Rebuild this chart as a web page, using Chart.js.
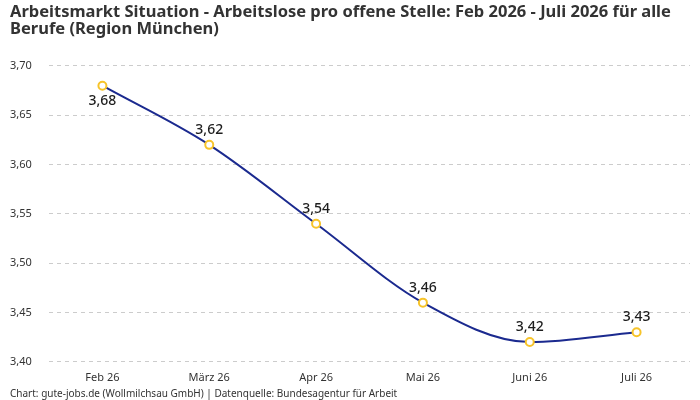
<!DOCTYPE html>
<html>
<head>
<meta charset="utf-8">
<script src="https://cdn.jsdelivr.net/npm/chart.js@4/dist/chart.umd.min.js"></script>
<style>
  html, body { margin: 0; padding: 0; background: #fff; }
  #wrap { width: 700px; height: 400px; position: relative; }
</style>
</head>
<body>
<div id="wrap"><canvas id="myChart"></canvas></div>
<script>
const months = ['Feb 26', 'März 26', 'Apr 26', 'Mai 26', 'Juni 26', 'Juli 26'];
const ratio = [3.68, 3.62, 3.54, 3.46, 3.42, 3.43];
const yTicks = [3.40, 3.45, 3.50, 3.55, 3.60, 3.65, 3.70];

const fontName = '"Noto Sans", "Open Sans", sans-serif';
const fmt = v => v.toFixed(2).replace('.', ',');

// Werte über die Punkte schreiben (erster Punkt darunter)
const valueLabels = {
    id: 'valueLabels',
    afterDatasetsDraw(chart) {
        const ctx = chart.ctx;
        const meta = chart.getDatasetMeta(0);
        ctx.save();
        ctx.font = '500 14px ' + fontName;
        ctx.fillStyle = '#1e1e1e';
        ctx.textAlign = 'center';
        ctx.textBaseline = 'middle';
        meta.data.forEach((pt, i) => {
            const val = chart.data.datasets[0].data[i];
            if (i === 0) {
                ctx.fillText(fmt(val), pt.x, pt.y + 15);
            } else {
                ctx.fillText(fmt(val), pt.x, pt.y - 15);
            }
        });
        ctx.restore();
    }
};

const ctx = document.getElementById('myChart');
new Chart(ctx, {
    type: 'line',
    data: {
        labels: months,
        datasets: [{
            label: 'Arbeitslose pro offene Stelle',
            data: ratio,
            borderColor: '#1b2a8f',
            borderWidth: 2,
            tension: 0.4,
            cubicInterpolationMode: 'monotone',
            pointRadius: 4,
            pointBorderWidth: 2,
            pointBackgroundColor: '#fff',
            pointBorderColor: '#f7c42a'
        }]
    },
    options: {
        responsive: true,
        maintainAspectRatio: false,
        animation: false,
        layout: { padding: { left: 10, right: 10, top: 0, bottom: 0 } },
        plugins: {
            legend: { display: false },
            tooltip: { enabled: false },
            title: {
                display: true,
                align: 'start',
                text: ['Arbeitsmarkt Situation - Arbeitslose pro offene Stelle: Feb 2026 - Juli 2026 für alle', 'Berufe (Region München)'],
                color: '#333',
                font: { family: fontName, size: 16.5, weight: 'bold', lineHeight: 1.03 },
                padding: { top: 4, bottom: 28 }
            },
            subtitle: {
                display: true,
                position: 'bottom',
                align: 'start',
                text: 'Chart: gute-jobs.de (Wollmilchsau GmbH) | Datenquelle: Bundesagentur für Arbeit',
                color: '#333',
                font: { family: fontName, size: 10 },
                padding: { top: 3, bottom: 0 }
            }
        },
        scales: {
            x: {
                offset: true,
                grid: { display: false },
                border: { display: false },
                ticks: { color: '#333', font: { family: fontName, size: 11 }, padding: 1 }
            },
            y: {
                min: 3.40,
                max: 3.70,
                afterBuildTicks: axis => { axis.ticks = yTicks.map(v => ({ value: v })); },
                afterFit: axis => { axis.width = 39; },
                grid: { color: '#cccccc', drawTicks: false },
                border: { display: false, dash: [4, 4] },
                ticks: {
                    color: '#333',
                    font: { family: fontName, size: 11 },
                    crossAlign: 'far',
                    padding: 14,
                    callback: v => fmt(v)
                }
            }
        }
    },
    plugins: [valueLabels]
});
</script>
</body>
</html>
